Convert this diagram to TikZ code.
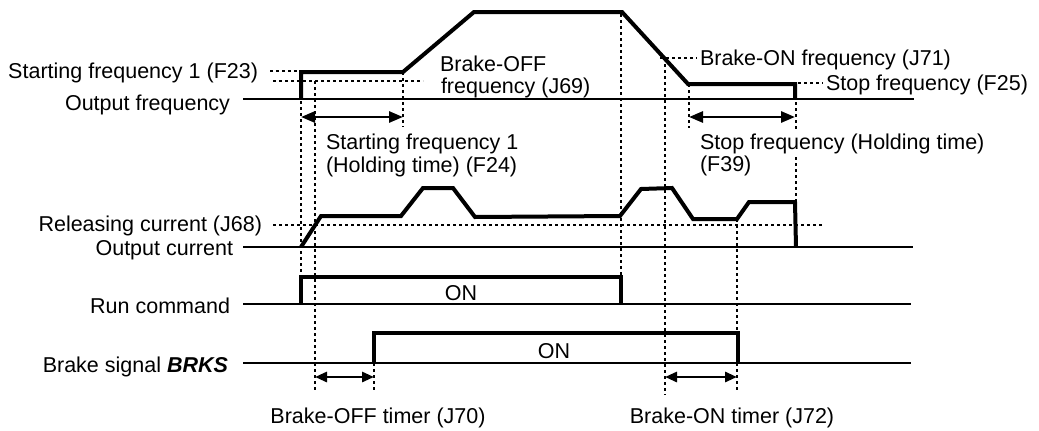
\documentclass[tikz,border=0pt]{standalone}
\usepackage{fontspec}
\setmainfont{Liberation Sans}
\usetikzlibrary{arrows.meta}
\begin{document}
\begin{tikzpicture}[x=1pt,y=-1pt,
  lbl/.style={font=\fontsize{21.5}{23}\selectfont, inner sep=0pt, outer sep=0pt},
  axisline/.style={line width=2pt},
  wave/.style={line width=4pt, line join=miter, line cap=butt},
  dots/.style={line width=1.6pt, dash pattern=on 3pt off 3pt},
  dim/.style={line width=2.8pt, {Triangle[length=14pt,width=11pt]}-{Triangle[length=14pt,width=11pt]}},
  sdim/.style={line width=2.8pt, {Triangle[length=12pt,width=10pt]}-{Triangle[length=12pt,width=10pt]}}]
\useasboundingbox (0,0) rectangle (1039,431);

% ---------- labels ----------
\node[lbl, anchor=base east] (lF23) at (258,78) {Starting frequency 1 (F23)};
\node[lbl, anchor=base east] (lOF) at (230,110) {Output frequency};
\node[lbl, anchor=base west] (lJ69a) at (440,71) {Brake-OFF};
\node[lbl, anchor=base west] (lJ69b) at (441,93) {frequency (J69)};
\node[lbl, anchor=base west] (lJ71) at (700,65) {Brake-ON frequency (J71)};
\node[lbl, anchor=base west] (lF25) at (826,90) {Stop frequency (F25)};
\node[lbl, anchor=base west] (lF24a) at (326,149) {Starting frequency 1};
\node[lbl, anchor=base west] (lF24b) at (326,172) {(Holding time) (F24)};
\node[lbl, anchor=base west] (lF39a) at (700,149) {Stop frequency (Holding time)};
\node[lbl, anchor=base west] (lF39b) at (700,171) {(F39)};
\node[lbl, anchor=base east] (lJ68) at (262,231) {Releasing current (J68)};
\node[lbl, anchor=base east] (lOC) at (233,255) {Output current};
\node[lbl, anchor=base east] (lRun) at (230,313) {Run command};
\node[lbl, anchor=base] (lOn1) at (461,300) {ON};
\node[lbl, anchor=base east] (lBrk) at (228,372) {Brake signal \textbf{\textit{BRKS}}};
\node[lbl, anchor=base] (lOn2) at (554,358) {ON};
\node[lbl, anchor=base] (lJ70) at (378,423) {Brake-OFF timer (J70)};
\node[lbl, anchor=base] (lJ72) at (732,423) {Brake-ON timer (J72)};

% ---------- axis lines ----------
\draw[axisline] (243,99) -- (914,99);
\draw[axisline] (243,247) -- (913,247);
\draw[axisline] (243,304) -- (911,304);
\draw[axisline] (243,363) -- (911,363);

% ---------- dotted / dashed guides ----------
\draw[dots] (270,71) -- (300,71);
\draw[dots] (273,81) -- (423,81);
\draw[dots] (660,58) -- (697,58);
\draw[dots] (798,83) -- (823,83);
\draw[dots] (273,225) -- (823,225);

\draw[dots] (301,101) -- (301,277);
\draw[dots] (315,81) -- (315,392);
\draw[dots] (403,72) -- (403,127);
\draw[dots] (621,14) -- (621,277);
\draw[dots] (665,58) -- (665,395);
\draw[dots] (689,84) -- (689,128);
\draw[dots] (796,84) -- (796,131);
\draw[dots] (796,157) -- (796,202);
\draw[dots] (737,219) -- (737,392);
\draw[dots] (374,363) -- (374,392);

% ---------- waveforms ----------
% output frequency
\draw[wave] (301,99) -- (301,72) -- (403,72) -- (474,12) -- (622,12)
  -- (688,84) -- (795,84) -- (795,99);
% output current
\draw[wave] (301,247) -- (321,216) -- (401,216) -- (423,188) -- (453,188)
  -- (475,217) -- (620,216) -- (641,189) -- (672,188) -- (693,219)
  -- (737,219) -- (749,202) -- (795,202) -- (796,247);
% run command
\draw[wave] (301,304) -- (301,277) -- (621,277) -- (621,304);
% brake signal
\draw[wave] (374,363) -- (374,333) -- (738,333) -- (738,363);

% ---------- dimension arrows ----------
\coordinate (a1) at (301,117); \coordinate (a2) at (403,117);
\coordinate (b1) at (689,117); \coordinate (b2) at (795,117);
\coordinate (c1) at (315,377); \coordinate (c2) at (374,377);
\coordinate (d1) at (665,377); \coordinate (d2) at (737,377);
\draw[dim] (a1) -- (a2);
\draw[dim] (b1) -- (b2);
\draw[sdim] (c1) -- (c2);
\draw[sdim] (d1) -- (d2);
\end{tikzpicture}
\end{document}
